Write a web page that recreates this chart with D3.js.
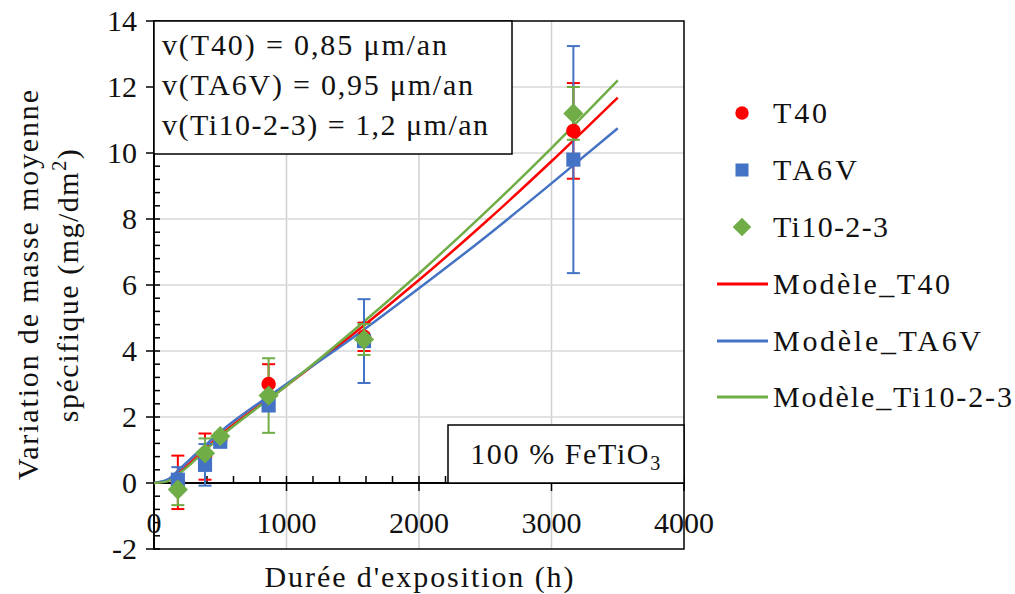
<!DOCTYPE html>
<html><head><meta charset="utf-8">
<script src="https://cdn.jsdelivr.net/npm/d3@7"></script>
</head>
<body style="margin:0;background:#fff"><svg id="c" width="1015" height="594"></svg>
<script>
// ---- data ----
const times   = [180, 385, 500, 865, 1585, 3165];
const t40     = [0.02, 0.8, 1.3, 3.0, 4.43, 10.67];
const t40Err  = [0.81, 0.7, 0.1, 0.6, 0.43, 1.45];
const ta6v    = [0.1, 0.55, 1.25, 2.35, 4.3, 9.8];
const ta6vErr = [0.38, 0.63, 0.1, 0.15, 1.27, 3.44];
const ti1023  = [-0.2, 0.9, 1.42, 2.65, 4.35, 11.2];
const tiErr   = [0.47, 0.45, 0.1, 1.13, 0.47, 0.8];

const modelT      = [0, 100, 200, 500, 1000, 1500, 2000, 2500, 3000, 3500];
const modelT40    = [0, 0.07, 0.36, 1.45, 2.95, 4.5, 6.15, 7.9, 9.75, 11.68];
const modelTA6V   = [0, 0.1, 0.45, 1.55, 3.0, 4.4, 5.9, 7.45, 9.08, 10.75];
const modelTi1023 = [0, 0.05, 0.32, 1.4, 2.95, 4.6, 6.35, 8.2, 10.15, 12.2];

const xTicks = [0, 1000, 2000, 3000, 4000];
const yTicks = [-2, 0, 2, 4, 6, 8, 10, 12, 14];
const xMinorStep = 200, yMinorStep = 0.4;

const seriesNames = ["T40", "TA6V", "Ti10-2-3"];
const modelNames = ["Modèle_T40", "Modèle_TA6V", "Modèle_Ti10-2-3"];
const rateLines = ["v(T40) = 0,85 μm/an", "v(TA6V) = 0,95 μm/an", "v(Ti10-2-3) = 1,2 μm/an"];
const colors = ["#FF0000", "#4472C4", "#70AD47"];

// ---- layout ----
const svg = d3.select("#c");
const x = d3.scaleLinear([0, 4000], [154, 684]);
const y = d3.scaleLinear([-2, 14], [549, 21]);
const FS = 30;
const TXT = "#111";
const FONT = "Liberation Serif";
function txt(sel) {
  return sel.attr("font-family", FONT).style("font-family", FONT)
    .attr("font-size", FS).attr("fill", TXT);
}
function fit(sel, w) { return sel.attr("textLength", w).attr("lengthAdjust", "spacing"); }

// grid
const grid = svg.append("g");
grid.selectAll("line.v").data(xTicks.filter(d => d > 0 && d < 4000)).join("line")
  .attr("x1", d => x(d)).attr("x2", d => x(d)).attr("y1", y(14)).attr("y2", y(-2))
  .attr("stroke", "#d0d0d0").attr("stroke-width", 1.5);
grid.selectAll("line.h").data(yTicks.filter(d => d > 0 && d < 14)).join("line")
  .attr("x1", x(0)).attr("x2", x(4000)).attr("y1", d => y(d)).attr("y2", d => y(d))
  .attr("stroke", "#d9d9d9").attr("stroke-width", 1.5);

// plot border
svg.append("rect").attr("x", x(0)).attr("y", y(14)).attr("width", x(4000) - x(0)).attr("height", y(-2) - y(14))
  .attr("fill", "none").attr("stroke", "#000").attr("stroke-width", 1.5);

// axes (custom ticks)
const ax = svg.append("g").attr("stroke", "#000").attr("stroke-width", 1.5);
ax.append("line").attr("x1", x(0)).attr("x2", x(4000)).attr("y1", y(0)).attr("y2", y(0)).attr("stroke-width", 2);
ax.append("line").attr("x1", x(0)).attr("x2", x(0)).attr("y1", y(14)).attr("y2", y(-2)).attr("stroke-width", 2);
const yMinor = d3.range(-2, 14.001, yMinorStep).filter(v => Math.abs(v / 2 - Math.round(v / 2)) > 1e-6);
ax.selectAll("line.ym").data(yMinor).join("line")
  .attr("x1", x(0)).attr("x2", x(0) + 6).attr("y1", d => y(d)).attr("y2", d => y(d));
ax.selectAll("line.yM").data(yTicks).join("line")
  .attr("x1", x(0) - 8).attr("x2", x(0) + 6).attr("y1", d => y(d)).attr("y2", d => y(d));
const xMinor = d3.range(0, 4000.001, xMinorStep).filter(v => v % 1000 !== 0);
ax.selectAll("line.xm").data(xMinor).join("line")
  .attr("x1", d => x(d)).attr("x2", d => x(d)).attr("y1", y(0)).attr("y2", y(0) - 7);
ax.selectAll("line.xM").data(xTicks).join("line")
  .attr("x1", d => x(d)).attr("x2", d => x(d)).attr("y1", y(0) - 7).attr("y2", y(0) + 8);

// tick labels
txt(svg.selectAll("text.yl").data(yTicks).join("text"))
  .attr("x", 137).attr("y", d => y(d)).attr("dy", "0.34em").attr("text-anchor", "end").text(d => d);
txt(svg.selectAll("text.xl").data(xTicks).join("text"))
  .attr("x", d => x(d)).attr("y", 533).attr("text-anchor", "middle").text(d => d);

// model lines
const line = d3.line().x(d => x(d[0])).y(d => y(d[1])).curve(d3.curveMonotoneX);
[modelT40, modelTA6V, modelTi1023].forEach((m, i) => {
  svg.append("path").datum(modelT.map((t, k) => [t, m[k]]))
    .attr("d", line).attr("fill", "none").attr("stroke", colors[i]).attr("stroke-width", 2.5);
});

// error bars
const vals = [t40, ta6v, ti1023], errs = [t40Err, ta6vErr, tiErr];
vals.forEach((v, i) => {
  const g = svg.append("g").attr("stroke", colors[i]).attr("stroke-width", 2);
  times.forEach((t, k) => {
    const cx = x(t), y1 = y(v[k] + errs[i][k]), y2 = y(v[k] - errs[i][k]);
    g.append("line").attr("x1", cx).attr("x2", cx).attr("y1", y1).attr("y2", y2);
    g.append("line").attr("x1", cx - 6.5).attr("x2", cx + 6.5).attr("y1", y1).attr("y2", y1);
    g.append("line").attr("x1", cx - 6.5).attr("x2", cx + 6.5).attr("y1", y2).attr("y2", y2);
  });
});

// markers
const sym = [d3.symbolCircle, d3.symbolSquare, d3.symbolDiamond2];
const sizes = [165, 200, 260];
vals.forEach((v, i) => {
  svg.append("g").selectAll("path").data(times.map((t, k) => [t, v[k]])).join("path")
    .attr("transform", d => `translate(${x(d[0])},${y(d[1])})`)
    .attr("d", d3.symbol(sym[i], sizes[i])).attr("fill", colors[i]);
});

// rate annotation box
svg.append("rect").attr("x", 154).attr("y", 21).attr("width", 358).attr("height", 133)
  .attr("fill", "#fff").attr("stroke", "#000").attr("stroke-width", 1.5);
const rateW = [285, 311, 326];
rateLines.forEach((d, i) => {
  fit(txt(svg.append("text")).attr("x", 162).attr("y", 55 + i * 40).text(d), rateW[i]);
});

// FeTiO3 box
svg.append("rect").attr("x", 448).attr("y", 425).attr("width", 236).attr("height", 58)
  .attr("fill", "#fff").attr("stroke", "#000").attr("stroke-width", 1.5);
const ft = txt(svg.append("text")).attr("x", 566).attr("y", 464).attr("text-anchor", "middle")
  .attr("letter-spacing", 1.6);
ft.append("tspan").text("100 % FeTiO");
ft.append("tspan").attr("font-size", 20).attr("dy", 6).text("3");

// axis titles
fit(txt(svg.append("text")).attr("x", x(2000) - 154.5).attr("y", 587).text("Durée d'exposition (h)"), 309);
const yt = svg.append("g").attr("transform", "translate(0,285) rotate(-90)");
fit(txt(yt.append("text")).attr("x", -195).attr("y", 38).text("Variation de masse moyenne"), 390);
const yt2 = txt(yt.append("text")).attr("x", 0).attr("y", 78).attr("text-anchor", "middle")
  .attr("letter-spacing", 1.5);
yt2.append("tspan").text("spécifique (mg/dm");
yt2.append("tspan").attr("font-size", 20).attr("dy", -12).text("2");
yt2.append("tspan").attr("dy", 12).text(")");

// legend
const lg = svg.append("g");
const rowsY = [113, 170, 227, 284, 341, 397];
const legW = [54, 84, 115, 177, 208, 239];
seriesNames.forEach((n, i) => {
  lg.append("path").attr("transform", `translate(742,${rowsY[i]})`)
    .attr("d", d3.symbol(sym[i], sizes[i] * 0.85)).attr("fill", colors[i]);
  fit(txt(lg.append("text")).attr("x", 773).attr("y", rowsY[i] + 10).text(n), legW[i]);
});
modelNames.forEach((n, i) => {
  const ry = rowsY[i + 3];
  lg.append("line").attr("x1", 717).attr("x2", 768).attr("y1", ry).attr("y2", ry)
    .attr("stroke", colors[i]).attr("stroke-width", 3);
  fit(txt(lg.append("text")).attr("x", 773).attr("y", ry + 10).text(n), legW[i + 3]);
});
</script></body></html>
